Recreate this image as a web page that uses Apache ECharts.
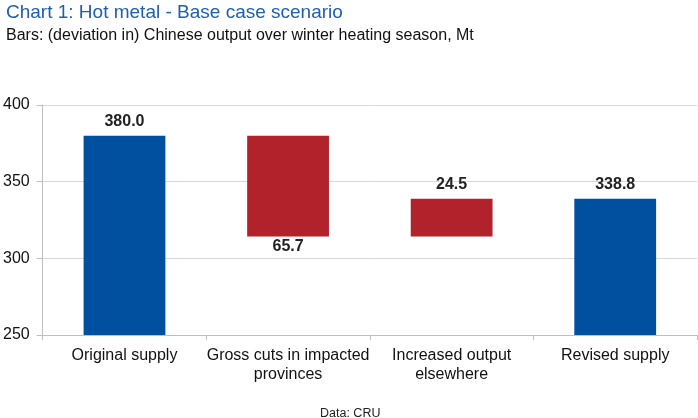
<!DOCTYPE html>
<html><head><meta charset="utf-8">
<script src="https://cdn.jsdelivr.net/npm/echarts@6/dist/echarts.min.js"></script>
<style>html,body{margin:0;padding:0;background:#fff}#c{width:698px;height:418px}</style>
</head><body><div id="c"></div>
<script>
const categories = ["Original supply", "Gross cuts in impacted\nprovinces", "Increased output\nelsewhere", "Revised supply"];
const barValues = [380.0, 65.7, 24.5, 338.8];
const barBases = [0, 314.3, 314.3, 0];
const barColors = ["#0050A0", "#B2222A", "#B2222A", "#0050A0"];
const labelPositions = ["top", "bottom", "top", "top"];
const yTicks = { min: 250, max: 400, interval: 50 };

const chart = echarts.init(document.getElementById('c'));
chart.setOption({
  animation: false,
  backgroundColor: '#fff',
  textStyle: { fontFamily: 'Liberation Sans, Arial, sans-serif' },
  title: [
    { text: 'Chart 1: Hot metal - Base case scenario', left: 1, top: -2,
      textStyle: { color: '#1F5FAF', fontSize: 19, fontWeight: 'normal', fontFamily: 'Liberation Sans' } },
    { text: 'Bars: (deviation in) Chinese output over winter heating season, Mt', left: 1, top: 23,
      textStyle: { color: '#111', fontSize: 16, fontWeight: 'normal', fontFamily: 'Liberation Sans' } },
    { text: 'Data: CRU', left: 315, top: 402,
      textStyle: { color: '#222', fontSize: 12.5, fontWeight: 'normal', fontFamily: 'Liberation Sans' } }
  ],
  grid: { left: 41, right: 1, top: 105, bottom: 83 },
  xAxis: {
    type: 'category', data: categories,
    axisLine: { lineStyle: { color: '#BFBFBF' } },
    axisTick: { show: true, length: 5, lineStyle: { color: '#BFBFBF' } },
    axisLabel: { interval: 0, color: '#111', fontSize: 16, lineHeight: 19, margin: 11, fontFamily: 'Liberation Sans' }
  },
  yAxis: {
    type: 'value', min: yTicks.min, max: yTicks.max, interval: yTicks.interval,
    axisLine: { show: true, lineStyle: { color: '#BFBFBF' } },
    axisTick: { show: true, length: 6, lineStyle: { color: '#BFBFBF' } },
    splitLine: { lineStyle: { color: '#D9D9D9' } },
    axisLabel: { color: '#111', fontSize: 16, margin: 13, fontFamily: 'Liberation Sans' }
  },
  series: [
    { type: 'bar', stack: 'w', data: barBases, itemStyle: { color: 'transparent' }, silent: true, barWidth: '50%' },
    { type: 'bar', stack: 'w', barWidth: '50%',
      data: barValues.map((v, i) => ({
        value: v,
        itemStyle: { color: barColors[i] },
        label: { show: true, position: labelPositions[i], distance: labelPositions[i] === 'bottom' ? 2 : 6,
          formatter: () => v.toFixed(1), color: '#222', fontSize: 16, fontWeight: 'bold', fontFamily: 'Liberation Sans' }
      })) }
  ]
});
</script></body></html>
